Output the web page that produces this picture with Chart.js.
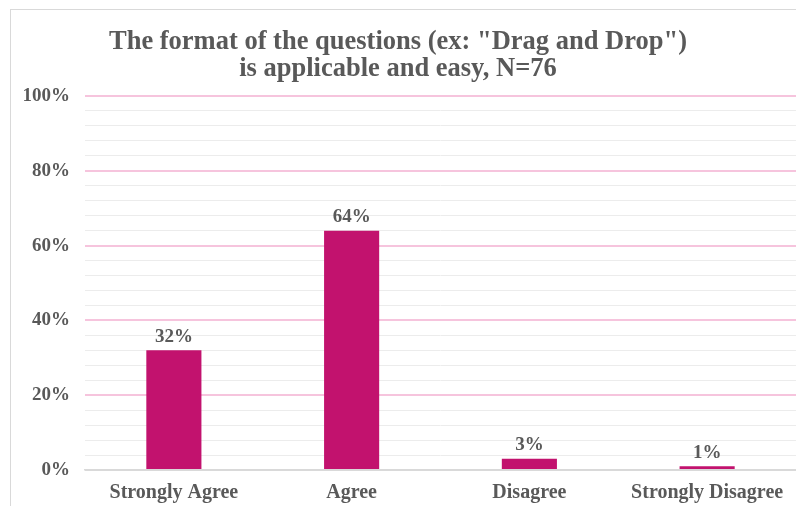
<!DOCTYPE html>
<html>
<head>
<meta charset="utf-8">
<script src="https://cdn.jsdelivr.net/npm/chart.js@4.4.1/dist/chart.umd.min.js"></script>
<style>
  html, body { margin: 0; padding: 0; background: #fff; }
  #wrap { position: relative; width: 796px; height: 506px; overflow: hidden; }
  #frame { position: absolute; left: 10px; top: 9px; width: 820px; height: 520px; border: 1px solid #d9d9d9; }
  #chart { position: absolute; left: 0; top: 0; }
</style>
</head>
<body>
<div id="wrap">
  <div id="frame"></div>
  <canvas id="chart" width="796" height="506"></canvas>
</div>
<script>
// Survey answers, share of respondents (%)
const categories = ["Strongly Agree", "Agree", "Disagree", "Strongly Disagree"];
const shares = [32, 64, 3, 1];
const titleLines = ['The format of the questions (ex: "Drag and Drop")', "is applicable and easy, N=76"];

const textColor = "#595959";
const barColor = "#c2126e";
const serif = "'Liberation Serif', Georgia, serif";

// Percent labels above each bar
const barLabels = {
  id: "barLabels",
  afterDatasetsDraw(chart) {
    const ctx = chart.ctx;
    const meta = chart.getDatasetMeta(0);
    ctx.save();
    ctx.font = "bold 19px " + serif;
    ctx.fillStyle = textColor;
    ctx.textAlign = "center";
    ctx.textBaseline = "bottom";
    meta.data.forEach((bar, i) => {
      ctx.fillText(shares[i] + "%", bar.x, bar.y - 4);
    });
    ctx.restore();
  }
};

const ctx = document.getElementById("chart").getContext("2d");
new Chart(ctx, {
  type: "bar",
  data: {
    labels: categories,
    datasets: [{
      data: shares,
      backgroundColor: barColor,
      barPercentage: 0.62,
      categoryPercentage: 0.5
    }]
  },
  options: {
    responsive: false,
    animation: false,
    layout: { padding: { left: 0, right: 0, top: 29, bottom: 0 } },
    plugins: {
      legend: { display: false },
      tooltip: { enabled: false },
      title: {
        display: true,
        text: titleLines,
        color: textColor,
        font: { family: serif, size: 26.5, weight: "bold", lineHeight: 1.0 },
        padding: { top: 0, bottom: 14 }
      }
    },
    scales: {
      x: {
        grid: { display: false },
        border: { color: "#d9d9d9", width: 1.5 },
        ticks: { color: textColor, font: { family: serif, size: 20, weight: "bold" }, padding: 3 },
        afterFit: s => { s.height = 36; }
      },
      y: {
        min: 0,
        max: 100,
        border: { display: false },
        grid: {
          drawTicks: false,
          color: c => c.tick.value === 0 ? "#d9d9d9" : (c.tick.value % 20 === 0 ? "#f6c4dd" : "#ececec"),
          lineWidth: c => c.tick.value % 20 === 0 ? 2 : 1
        },
        ticks: {
          stepSize: 4,
          autoSkip: false,
          padding: 15,
          color: textColor,
          font: { family: serif, size: 19, weight: "bold" },
          callback: v => v % 20 === 0 ? v + "%" : ""
        },
        afterFit: s => { s.width = 85; }
      }
    }
  },
  plugins: [barLabels]
});
</script>
</body>
</html>
